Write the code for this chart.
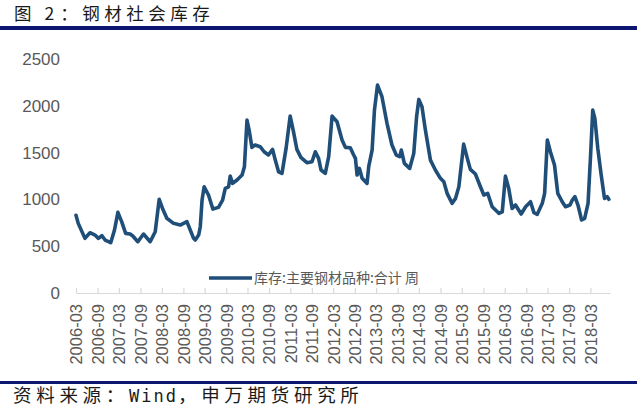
<!DOCTYPE html>
<html>
<head>
<meta charset="utf-8">
<script src="https://cdn.jsdelivr.net/npm/d3@7"></script>
<style>
  html, body { margin: 0; padding: 0; background: #fff; }
  svg { display: block; }
  .tick text { fill: #595959; }
</style>
</head>
<body>
<svg id="chart"></svg>
<script>
const dates = [
  "2006-03-01","2006-03-20","2006-05-16","2006-06-28","2006-08-10","2006-09-08","2006-10-07","2006-11-04","2006-12-22",
  "2007-01-23","2007-02-21","2007-03-25","2007-04-28","2007-06-05","2007-06-28","2007-08-10","2007-09-27","2007-11-23",
  "2008-01-05","2008-02-08","2008-03-10","2008-04-13","2008-06-09","2008-08-05","2008-10-01","2008-10-15","2008-11-27","2008-12-11",
  "2009-01-09","2009-01-23","2009-02-07","2009-02-25","2009-04-03","2009-05-10","2009-06-27","2009-08-01","2009-08-24","2009-09-21","2009-10-05","2009-10-25","2009-12-02",
  "2010-01-14","2010-02-03","2010-02-25","2010-03-15","2010-04-08","2010-05-05","2010-06-17","2010-07-21","2010-08-27","2010-10-01","2010-10-24","2010-11-21","2010-12-20",
  "2011-01-24","2011-02-28","2011-03-28","2011-04-26","2011-05-30","2011-07-20","2011-09-02","2011-09-30","2011-10-28","2011-11-18","2011-12-24",
  "2012-01-22","2012-02-20","2012-04-02","2012-05-15","2012-06-12","2012-07-24","2012-08-22","2012-09-06","2012-09-20","2012-10-10","2012-11-02","2012-12-14","2012-12-28",
  "2013-01-26","2013-02-15","2013-03-13","2013-04-20","2013-06-02","2013-07-14","2013-08-20","2013-09-18","2013-10-02","2013-10-28","2013-12-12",
  "2014-01-16","2014-02-09","2014-02-28","2014-03-27","2014-04-25","2014-06-07","2014-07-19","2014-08-31","2014-09-29","2014-10-27","2014-12-09",
  "2015-01-07","2015-02-04","2015-03-17","2015-04-15","2015-05-13","2015-06-25","2015-08-07","2015-09-05","2015-10-08","2015-11-15",
  "2016-01-11","2016-02-09","2016-03-07","2016-04-04","2016-05-03","2016-06-01","2016-07-19","2016-08-26","2016-10-07","2016-11-05","2016-12-03",
  "2017-01-15","2017-02-04","2017-02-27","2017-03-25","2017-04-29","2017-05-27","2017-07-04","2017-08-01","2017-09-08","2017-09-28","2017-10-20","2017-11-15","2017-12-16",
  "2018-01-11","2018-02-09","2018-03-02","2018-03-21","2018-04-08","2018-05-03","2018-06-01","2018-06-29","2018-07-22","2018-08-05"
]
const inventory = [
  830,744,584,644,619,584,612,566,537,
  673,862,762,637,630,609,548,630,548,
  655,1001,894,798,744,726,762,719,584,566,
  619,708,993,1135,1047,897,915,993,1118,1135,1249,1171,1207,
  1260,1349,1848,1741,1556,1581,1563,1509,1474,1534,1420,1295,1278,
  1545,1890,1723,1534,1449,1392,1402,1509,1438,1314,1278,
  1456,1890,1830,1634,1556,1552,1474,1438,1260,1331,1225,1171,1349,
  1527,1954,2221,2097,1812,1581,1474,1456,1527,1385,1331,
  1492,1883,2068,1990,1741,1420,1314,1225,1189,1065,958,
  1011,1135,1591,1449,1321,1271,1135,1047,1065,922,
  851,868,1249,1118,904,940,844,922,975,858,840,
  958,1065,1634,1509,1367,1065,975,922,940,993,1029,940,780,
  798,958,1456,1954,1866,1545,1260,1011,1029,1001
]
const xTickLabels = [
  "2006-03","2006-09","2007-03","2007-09","2008-03","2008-09","2009-03","2009-09",
  "2010-03","2010-09","2011-03","2011-09","2012-03","2012-09","2013-03","2013-09",
  "2014-03","2014-09","2015-03","2015-09","2016-03","2016-09","2017-03","2017-09","2018-03"
]
const yTicks = [0, 500, 1000, 1500, 2000, 2500]
const seriesName = "库存:主要钢材品种:合计 周"
const titleText = ["图 ", "2", "：钢材社会库存"]
const sourceText = ["资料来源：", "Wind", "，申万期货研究所"]

const drawChart = () => {
  const parseDay = d3.timeParse("%Y-%m-%d")
  const parseMonth = d3.timeParse("%Y-%m")
  const data = dates.map((d, i) => ({ date: parseDay(d), value: inventory[i] }))
  const xAccessor = (d) => d.date
  const yAccessor = (d) => d.value

  const dimensions = {
    width: 637,
    height: 410,
    margin: { top: 59, bottom: 117, right: 27, left: 76 },
  }
  dimensions.boundedWidth =
    dimensions.width - dimensions.margin.left - dimensions.margin.right
  dimensions.boundedHeight =
    dimensions.height - dimensions.margin.top - dimensions.margin.bottom

  const wrapper = d3
    .select("#chart")
    .attr("width", dimensions.width)
    .attr("height", dimensions.height)

  // header and footer
  const title = wrapper
    .append("text")
    .attr("x", 14)
    .attr("y", 20)
    .style("font-family", "'Noto Sans CJK SC', sans-serif")
    .style("font-size", "17.5px")
    .style("letter-spacing", "4.5px")
    .style("fill", "#1a1a1a")
  title.append("tspan").text(titleText[0])
  title.append("tspan").text(titleText[1]).style("letter-spacing", "6px")
  title.append("tspan").text(titleText[2])

  wrapper
    .append("rect")
    .attr("x", 0)
    .attr("y", 26)
    .attr("width", dimensions.width)
    .attr("height", 4)
    .attr("fill", "#0d1670")

  wrapper
    .append("rect")
    .attr("x", 0)
    .attr("y", 381)
    .attr("width", dimensions.width)
    .attr("height", 3)
    .attr("fill", "#0d1670")

  const source = wrapper
    .append("text")
    .attr("x", 13)
    .attr("y", 402)
    .style("font-family", "'Noto Sans CJK SC', sans-serif")
    .style("font-size", "18.5px")
    .style("letter-spacing", "4.7px")
    .style("fill", "#1a1a1a")
  source.append("tspan").text(sourceText[0])
  source
    .append("tspan")
    .text(sourceText[1])
    .style("font-family", "'DejaVu Sans Mono', monospace")
    .style("font-size", "17px")
    .style("letter-spacing", "2px")
  source.append("tspan").text(sourceText[2])

  const bounds = wrapper
    .append("g")
    .attr(
      "transform",
      `translate(${dimensions.margin.left}, ${dimensions.margin.top})`
    )

  // scales
  const xScale = d3
    .scaleTime()
    .domain([parseMonth("2006-03"), parseDay("2018-08-15")])
    .range([0, dimensions.boundedWidth])

  const yScale = d3
    .scaleLinear()
    .domain([0, 2500])
    .range([dimensions.boundedHeight, 0])

  // axes
  const yAxisGenerator = d3
    .axisLeft(yScale)
    .tickValues(yTicks)
    .tickSize(0)
    .tickPadding(16)
    .tickFormat(d3.format("d"))
  const yAxis = bounds.append("g").call(yAxisGenerator)
  yAxis.select(".domain").remove()
  yAxis
    .selectAll("text")
    .style("font-family", "'Liberation Sans', Arial, sans-serif")
    .style("font-size", "17px")

  const xAxisGenerator = d3
    .axisBottom(xScale)
    .tickValues(xTickLabels.map(parseMonth))
    .tickSizeInner(-5)
    .tickSizeOuter(0)
    .tickFormat(d3.timeFormat("%Y-%m"))
  const xAxis = bounds
    .append("g")
    .attr("transform", `translate(0, ${dimensions.boundedHeight})`)
    .call(xAxisGenerator)
  xAxis.select(".domain").attr("stroke", "#d9d9d9").attr("stroke-width", 1.2)
  xAxis.selectAll(".tick line").attr("stroke", "#d9d9d9").attr("stroke-width", 1.2)
  xAxis
    .selectAll("text")
    .attr("transform", "rotate(-90)")
    .attr("text-anchor", "end")
    .attr("x", -11)
    .attr("y", 0)
    .attr("dy", "0.35em")
    .style("font-family", "'Liberation Sans', Arial, sans-serif")
    .style("font-size", "16.5px")

  // line
  const lineGenerator = d3
    .line()
    .x((d) => xScale(xAccessor(d)))
    .y((d) => yScale(yAccessor(d)))

  bounds
    .append("path")
    .attr("d", lineGenerator(data))
    .attr("fill", "none")
    .attr("stroke", "#1f4e79")
    .attr("stroke-width", 3.6)
    .attr("stroke-linejoin", "round")
    .attr("stroke-linecap", "round")

  // legend
  const legend = wrapper.append("g").attr("transform", "translate(209, 278)")
  legend
    .append("line")
    .attr("x1", 0)
    .attr("x2", 43)
    .attr("stroke", "#1f4e79")
    .attr("stroke-width", 3.6)
  legend
    .append("text")
    .attr("x", 45)
    .attr("dy", "0.36em")
    .text(seriesName)
    .style("font-family", "'Noto Sans CJK SC', sans-serif")
    .style("font-size", "14px")
    .style("fill", "#595959")
}

drawChart()
</script>
</body>
</html>
